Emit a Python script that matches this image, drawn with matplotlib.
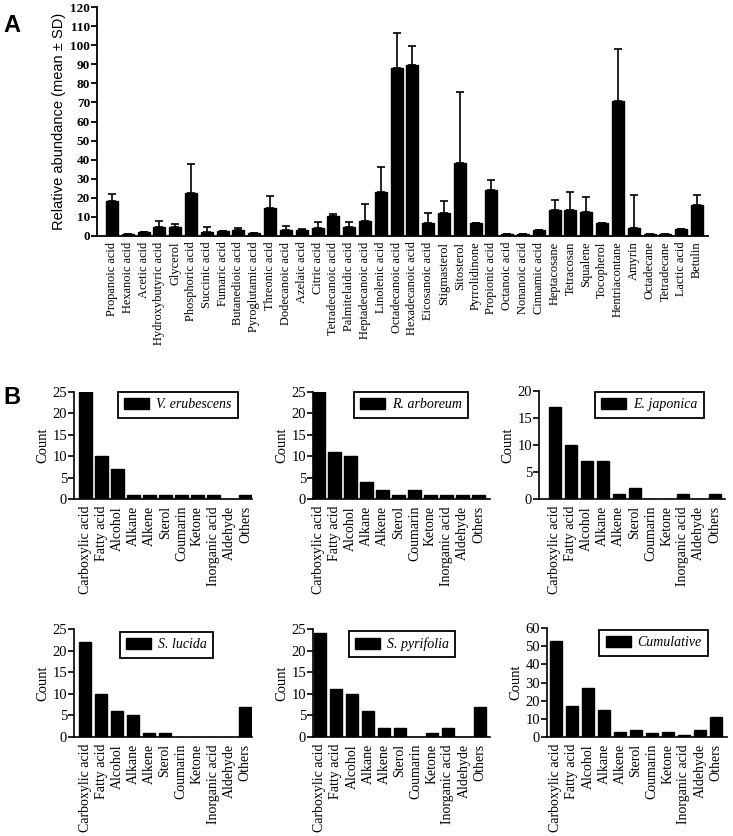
import numpy as np
import matplotlib
matplotlib.use("Agg")
import matplotlib.pyplot as plt

# ---------------- Data ----------------
compounds = ["Propanoic acid", "Hexanoic acid", "Acetic acid", "Hydroxybutyric acid", "Glycerol",
             "Phosphoric acid", "Succinic acid", "Fumaric acid", "Butanedioic acid", "Pyroglutamic acid",
             "Threonic acid", "Dodecanoic acid", "Azelaic acid", "Citric acid", "Tetradecanoic acid",
             "Palmitelaidic acid", "Heptadecanoic acid", "Linolenic acid", "Octadecanoic acid",
             "Hexadecanoic acid", "Eicosanoic acid", "Stigmasterol", "Sitosterol", "Pyrrolidinone",
             "Propionic acid", "Octanoic acid", "Nonanoic acid", "Cinnamic acid", "Heptacosane",
             "Tetracosan", "Squalene", "Tocopherol", "Hentriacontane", "Amyrin", "Octadecane",
             "Tetradecane", "Lactic acid", "Betulin"]
abund_mean = [18.6, 1.0, 1.9, 4.5, 4.5, 22.5, 2.1, 2.8, 3.4, 1.4,
              14.9, 3.2, 2.9, 4.2, 10.5, 4.6, 7.9, 23.2, 88.0, 89.5,
              6.6, 12.2, 38.5, 6.6, 24.0, 1.1, 1.1, 3.0, 13.5, 13.7,
              12.5, 6.8, 71.0, 4.3, 1.0, 1.1, 3.6, 16.3]
abund_sd = [3.4, 0.0, 0.0, 3.6, 2.0, 15.1, 2.6, 0.0, 0.6, 0.0,
            5.8, 1.8, 0.9, 2.9, 1.1, 2.6, 9.0, 13.0, 18.5, 10.2,
            5.6, 6.1, 37.0, 0.0, 5.5, 0.0, 0.0, 0.0, 5.4, 9.5,
            7.9, 0.0, 27.2, 17.0, 0.0, 0.0, 0.0, 5.3]

classes = ["Carboxylic acid", "Fatty acid", "Alcohol", "Alkane", "Alkene", "Sterol",
           "Coumarin", "Ketone", "Inorganic acid", "Aldehyde", "Others"]
species = ["V. erubescens", "R. arboreum", "E. japonica", "S. lucida", "S. pyrifolia", "Cumulative"]
count_v_erubescens = [25, 10, 7, 1, 1, 1, 1, 1, 1, 0, 1]
count_r_arboreum = [25, 11, 10, 4, 2, 1, 2, 1, 1, 1, 1]
count_e_japonica = [17, 10, 7, 7, 1, 2, 0, 0, 1, 0, 1]
count_s_lucida = [22, 10, 6, 5, 1, 1, 0, 0, 0, 0, 7]
count_s_pyrifolia = [24, 11, 10, 6, 2, 2, 0, 1, 2, 0, 7]
count_cumulative = [53, 17, 27, 15, 3, 4, 2, 3, 1, 4, 11]
counts = [count_v_erubescens, count_r_arboreum, count_e_japonica,
          count_s_lucida, count_s_pyrifolia, count_cumulative]
y_max = [25, 25, 20, 25, 25, 60]
y_step = [5, 5, 5, 5, 5, 10]

# ---------------- Layout helpers ----------------
W, H = 733, 836
SERIF = "Liberation Serif"
SANS = "Liberation Sans"

def fx(px):
    return px / W

def fy(py):
    return 1 - py / H

fig = plt.figure(figsize=(W / 100, H / 100), dpi=100)

def style_axes(ax, lw=1.3):
    for s in ["top", "right"]:
        ax.spines[s].set_visible(False)
    for s in ["left", "bottom"]:
        ax.spines[s].set_linewidth(lw)
    ax.tick_params(axis="y", direction="out", length=4, width=lw)
    ax.tick_params(axis="x", length=0)

# ---------------- Panel A ----------------
axA = fig.add_axes([fx(97), fy(236), fx(708) - fx(97), (236 - 7) / H])
xa = np.arange(len(compounds))
axA.bar(xa, abund_mean, width=0.76, color="black", edgecolor="black",
        yerr=[np.zeros(len(abund_sd)), abund_sd],
        error_kw=dict(ecolor="black", elinewidth=1.2, capsize=3, capthick=1.2))
axA.set_xlim(-0.95, 37.7)
axA.set_ylim(0, 120)
axA.set_yticks(np.arange(0, 121, 10))
axA.set_yticklabels([str(v) for v in range(0, 121, 10)], fontfamily=SERIF,
                    fontweight="bold", fontsize=9.5)
axA.set_xticks(xa)
axA.set_xticklabels(compounds, rotation=90, fontfamily=SERIF, fontsize=8.9)
axA.tick_params(axis="x", pad=4)
axA.tick_params(axis="y", pad=1)
style_axes(axA)
axA.set_ylabel("Relative abundance (mean \u00b1 SD)", fontfamily=SANS, fontsize=10.5, labelpad=3)

fig.text(fx(3), fy(32), "A", fontfamily=SANS, fontweight="bold", fontsize=17)
fig.text(fx(3), fy(404), "B", fontfamily=SANS, fontweight="bold", fontsize=17)

# ---------------- Panel B ----------------
# (axis left px, axis right px, first bar center px, axis top px, axis bottom px, legend right px, legend top px)
panel_geom = [
    (74, 252, 85.5, 392, 499, 238, 392),
    (313, 490, 318.5, 392, 499, 468, 392),
    (539, 725, 554.8, 391, 499, 704, 392),
    (74, 252, 85.0, 629, 737, 213, 632),
    (313, 490, 320.0, 629, 737, 455, 631),
    (547, 727, 556.0, 628, 737, 708, 630),
]
spacing = 16.0
xb = np.arange(len(classes))
for i, (name, cnt) in enumerate(zip(species, counts)):
    l, r, c0, t, b, lr, lt = panel_geom[i]
    ax = fig.add_axes([fx(l), fy(b), (r - l) / W, (b - t) / H])
    ax.bar(xb, cnt, width=0.76, color="black", edgecolor="black", label=name)
    x0 = -(c0 - l) / spacing
    ax.set_xlim(x0, x0 + (r - l) / spacing)
    ax.set_ylim(0, y_max[i])
    yt = np.arange(0, y_max[i] + 1, y_step[i])
    ax.set_yticks(yt)
    ax.set_yticklabels([str(v) for v in yt], fontfamily=SERIF, fontsize=10.5)
    ax.set_xticks(xb)
    ax.set_xticklabels(classes, rotation=90, fontfamily=SERIF, fontsize=10)
    ax.tick_params(axis="x", pad=5)
    ax.tick_params(axis="y", pad=1)
    style_axes(ax, lw=1.2)
    ax.set_ylabel("Count", fontfamily=SERIF, fontsize=10.5, labelpad=2)
    leg = ax.legend(loc="upper right", bbox_to_anchor=(fx(lr), fy(lt)),
                    bbox_transform=fig.transFigure, borderaxespad=0,
                    prop=dict(family=SERIF, style="italic", size=10),
                    handlelength=1.8, handleheight=0.8, handletextpad=0.5,
                    borderpad=0.45, fancybox=False, framealpha=1)
    leg.get_frame().set_edgecolor("black")
    leg.get_frame().set_linewidth(1.3)

fig.savefig("out.png", dpi=100)
